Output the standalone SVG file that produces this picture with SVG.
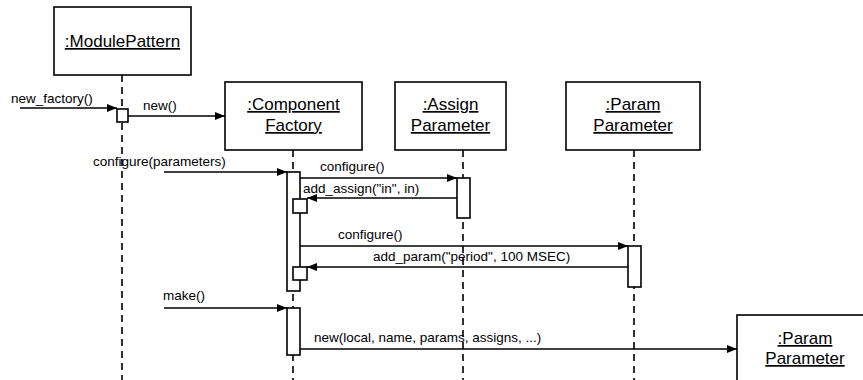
<svg xmlns="http://www.w3.org/2000/svg" width="863" height="380" viewBox="0 0 863 380">
<defs>
<style>
.box{fill:#fff;stroke:#000;stroke-width:1.6}
.life{stroke:#000;stroke-width:1.6;stroke-dasharray:7,5;fill:none}
.msg{stroke:#000;stroke-width:1.5;fill:none;marker-end:url(#ah)}
.act{fill:#fff;stroke:#000;stroke-width:1.6}
.lbl{font-family:"Liberation Sans",Arial,sans-serif;font-size:17px;text-anchor:middle;text-decoration:underline}
.mt{font-family:"Liberation Sans",Arial,sans-serif;font-size:13.5px}
</style>
<marker id="ah" viewBox="0 0 10 8" refX="10" refY="4" markerWidth="10" markerHeight="8" markerUnits="userSpaceOnUse" orient="auto">
<path d="M0,0 L10,4 L0,8 Z" fill="#000"/>
</marker>
</defs>
<g id="lifelines">
<line class="life" x1="122" y1="75" x2="122" y2="380"/>
<line class="life" x1="293" y1="150" x2="293" y2="380"/>
<line class="life" x1="463" y1="150" x2="463" y2="380"/>
<line class="life" x1="634" y1="150" x2="634" y2="380"/>
</g>
<g id="modulePattern">
<rect class="box" x="54" y="7" width="137" height="68"/>
<text class="lbl" x="122.5" y="47">:ModulePattern</text>
</g>
<g id="componentFactory">
<rect class="box" x="225" y="82" width="137" height="68"/>
<text class="lbl" x="293.5" y="110">:Component</text>
<text class="lbl" x="293.5" y="131">Factory</text>
</g>
<g id="assignParameter">
<rect class="box" x="395" y="82" width="111" height="68"/>
<text class="lbl" x="450.5" y="110">:Assign</text>
<text class="lbl" x="450.5" y="131">Parameter</text>
</g>
<g id="paramParameter">
<rect class="box" x="566" y="82" width="134" height="68"/>
<text class="lbl" x="633" y="110">:Param</text>
<text class="lbl" x="633" y="131">Parameter</text>
</g>
<g id="paramParameter2">
<rect class="box" x="737" y="315" width="136" height="75"/>
<text class="lbl" x="805" y="344">:Param</text>
<text class="lbl" x="805" y="364">Parameter</text>
</g>
<g id="activations">
<rect class="act" x="117" y="109" width="11" height="13"/>
<rect class="act" x="287" y="172" width="13" height="119"/>
<rect class="act" x="457" y="178" width="13" height="40"/>
<rect class="act" x="293" y="199" width="14" height="14"/>
<rect class="act" x="628" y="246" width="13" height="41"/>
<rect class="act" x="293" y="267" width="14" height="13"/>
<rect class="act" x="287" y="308" width="13" height="47"/>
</g>
<g id="connectors">
<line class="msg" x1="20" y1="108" x2="117" y2="108"/>
<line class="msg" x1="128" y1="116" x2="225" y2="116"/>
<line class="msg" x1="164" y1="172" x2="287" y2="172"/>
<line class="msg" x1="300" y1="178" x2="457" y2="178"/>
<line class="msg" x1="457" y1="198" x2="307" y2="198"/>
<line class="msg" x1="300" y1="246" x2="628" y2="246"/>
<line class="msg" x1="628" y1="267" x2="307" y2="267"/>
<line class="msg" x1="164" y1="308" x2="287" y2="308"/>
<line class="msg" x1="300" y1="349" x2="737" y2="349"/>
</g>
<g id="messageLabels">
<text class="mt" x="11" y="103">new_factory()</text>
<text class="mt" x="143" y="110">new()</text>
<text class="mt" x="93" y="166">configure(parameters)</text>
<text class="mt" x="320" y="171">configure()</text>
<text class="mt" x="303" y="193">add_assign("in", in)</text>
<text class="mt" x="338" y="239">configure()</text>
<text class="mt" x="373" y="261">add_param("period", 100 MSEC)</text>
<text class="mt" x="163" y="300">make()</text>
<text class="mt" x="314" y="342">new(local, name, params, assigns, ...)</text>
</g>
</svg>
